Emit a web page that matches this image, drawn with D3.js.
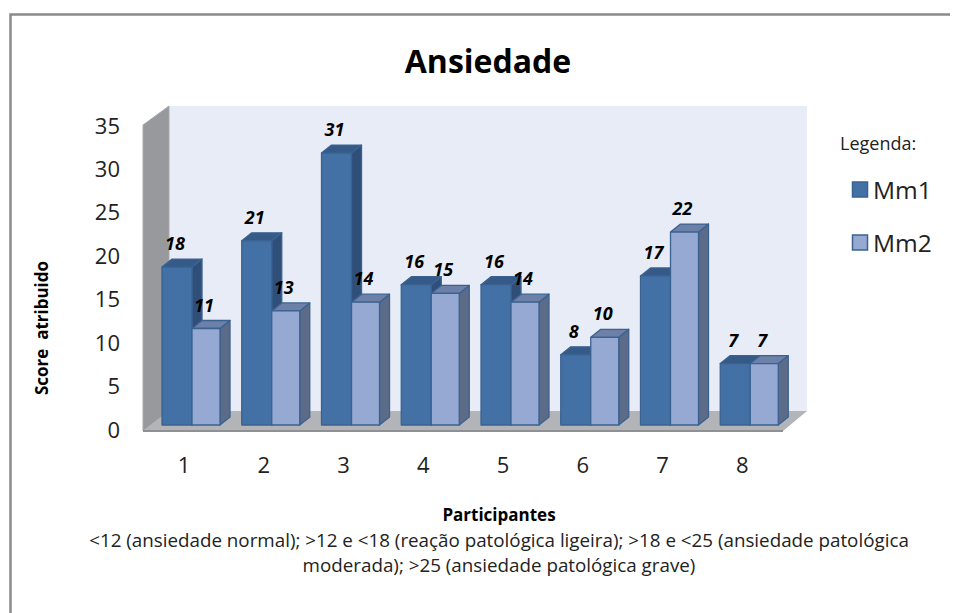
<!DOCTYPE html>
<html><head><meta charset="utf-8">
<script src="https://cdn.jsdelivr.net/npm/d3@7"></script>
<style>html,body{margin:0;background:#fff}svg{display:block}text{font-family:"Open Sans",sans-serif;white-space:pre}</style>
</head><body><svg id="c" width="959" height="613"></svg>
<script>
const categories=["1","2","3","4","5","6","7","8"];
const seriesNames=["Mm1","Mm2"];
const mm1=[18,21,31,16,16,8,17,7];
const mm2=[11,13,14,15,14,10,22,7];
const yTicks=[0,5,10,15,20,25,30,35];
const titleText="Ansiedade";
const yTitle="Score  atribuido";
const xTitle="Participantes";
const noteLines=["<12 (ansiedade normal); >12 e <18 (reação patológica ligeira); >18 e <25 (ansiedade patológica","moderada); >25 (ansiedade patológica grave)"];
const colors={front:["#4371a6","#95a9d2"],top:["#355a88","#6d80a8"],side:["#2f4f78","#5c6b88"],stroke:"#3a6291"};

const svg=d3.select("#c");
svg.append("path").attr("d","M10.5,613V14.5H950").attr("fill","none").attr("stroke","#8a8a8a").attr("stroke-width",2.5);

const x=d3.scaleBand().domain(categories).range([143,781]).paddingInner(0).paddingOuter(0);
const y=d3.scaleLinear().domain([0,35]).range([425,118]);
const axisY=d3.scaleLinear().domain([0,35]).range([430,126]);
const dx=10,dy=8;
const wall={x0:169,x1:807,y0:106,y1:411,fx:143,fy:431,fr:783};

svg.append("rect").attr("x",wall.x0).attr("y",wall.y0).attr("width",wall.x1-wall.x0).attr("height",wall.y1-wall.y0).attr("fill","#e8ecf6");
svg.append("path").attr("d",`M${wall.fx},125L${wall.x0},${wall.y0}V${wall.y1}L${wall.fx},${wall.fy}Z`).attr("fill","#98999c").attr("stroke","#a8a9ac");
svg.append("path").attr("d",`M${wall.fx},${wall.fy}L${wall.x0},${wall.y1}H${wall.x1}L${wall.fr},${wall.fy}Z`).attr("fill","#b2b4b8");
svg.append("path").attr("d",`M${wall.fx},${wall.fy}H${wall.fr}`).attr("stroke","#8f9094").attr("stroke-width",2);

const w=[30,28];
function bar(g,x0,bw,v,i){
  const t=y(v),b=y(0);
  const sw={stroke:colors.stroke,"stroke-width":1.3,"stroke-linejoin":"round"};
  const add=(d,f)=>{const p=g.append("path").attr("d",d).attr("fill",f);for(const k in sw)p.attr(k,sw[k]);};
  add(`M${x0+bw},${t}l${dx},${-dy}V${b-dy}l${-dx},${dy}Z`,colors.side[i]);
  add(`M${x0},${t}l${dx},${-dy}h${bw}l${-dx},${dy}Z`,colors.top[i]);
  add(`M${x0},${t}h${bw}V${b}h${-bw}Z`,colors.front[i]);
}
categories.forEach((c,k)=>{
  const g=svg.append("g");
  const x0=x(c)+19;
  bar(g,x0,w[0],mm1[k],0);
  bar(g,x0+w[0],w[1],mm2[k],1);
});
categories.forEach((c,k)=>{
  const x0=x(c)+19;
  [mm1[k],mm2[k]].forEach((v,i)=>{
    svg.append("text").attr("x",x0+(i?w[0]+w[1]/2-2:w[0]/2-2)).attr("y",y(v)-17)
      .attr("text-anchor","middle").attr("font-size",18).attr("font-weight",700).attr("font-style","italic").attr("fill","#000").text(v);
  });
  svg.append("text").attr("x",x0+22).attr("y",473).attr("text-anchor","middle").attr("font-size",22).attr("fill","#222").text(c);
});
const ax=svg.append("g").attr("transform","translate(120,0)").call(d3.axisLeft(axisY).tickValues(yTicks).tickSize(0).tickPadding(0));
ax.select(".domain").remove();
ax.selectAll("text").attr("font-size",22).attr("fill","#222").style("font-family",'"Open Sans",sans-serif');

svg.append("text").attr("x",488).attr("y",73).attr("text-anchor","middle").attr("font-size",32).attr("font-weight",700).attr("fill","#000").text(titleText);
svg.append("text").attr("transform","translate(48,328) rotate(-90)").attr("text-anchor","middle").attr("font-size",17).attr("font-weight",700).attr("fill","#000").text(yTitle);
svg.append("text").attr("x",499).attr("y",521).attr("text-anchor","middle").attr("font-size",17).attr("font-weight",700).attr("fill","#000").text(xTitle);
noteLines.forEach((l,i)=>svg.append("text").attr("x",499).attr("y",547+i*25).attr("text-anchor","middle").attr("font-size",18.8).attr("fill","#222").text(l));

svg.append("text").attr("x",840).attr("y",150).attr("font-size",18).attr("fill","#222").text("Legenda:");
seriesNames.forEach((n,i)=>{
  const ly=190+i*53;
  svg.append("rect").attr("x",852.5).attr("y",ly-8).attr("width",15).attr("height",15).attr("fill",colors.front[i]).attr("stroke",colors.stroke).attr("stroke-width",1.5);
  svg.append("text").attr("x",873).attr("y",ly+9).attr("font-size",24.5).attr("fill","#222").text(n);
});
</script></body></html>
